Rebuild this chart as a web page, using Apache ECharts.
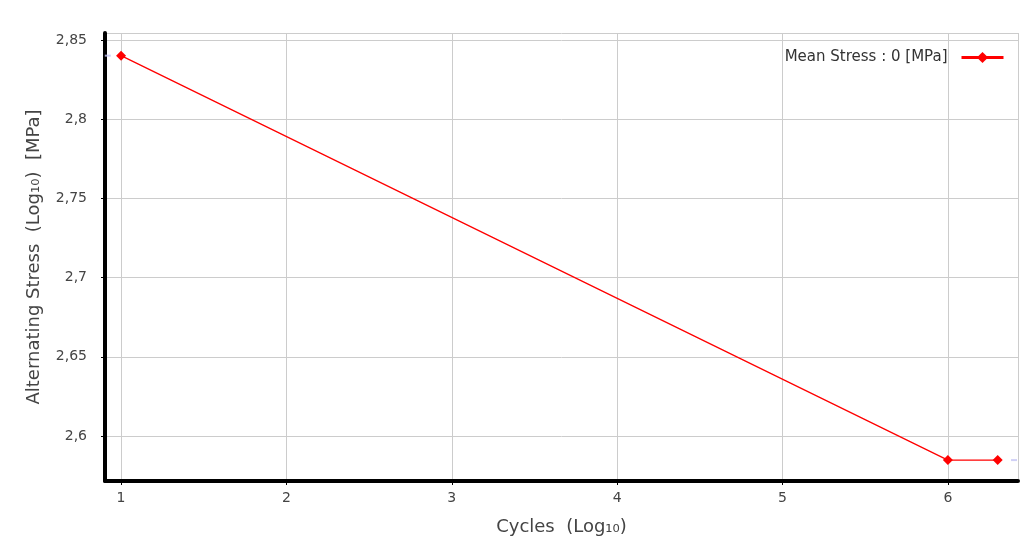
<!DOCTYPE html>
<html>
<head>
<meta charset="utf-8">
<script src="https://cdn.jsdelivr.net/npm/echarts@6/dist/echarts.min.js"></script>
<style>
  html, body { margin: 0; padding: 0; background: #fff; }
  #chart { width: 1027px; height: 553px; }
</style>
</head>
<body>
<div id="chart"></div>
<script>
// 数据
const seriesName = 'Mean Stress : 0 [MPa]';
const cyclesLog = [1, 6, 6.30103];
const stressLog = [2.8401, 2.5848, 2.5848];
// 图外的浅蓝色小标记
const edgeX = [0.92, 6.40];
const edgeY = [2.8401, 2.5848];

const fmt = v => String(+v.toFixed(2)).replace('.', ',');

let chart = echarts.init(document.getElementById('chart'));
let option = {
    animation: false,
    textStyle: { fontFamily: 'DejaVu Sans' },
    legend: {
        data: [seriesName],
        right: 17,
        top: 45,
        align: 'right',
        itemWidth: 42,
        itemHeight: 14,
        itemGap: 6,
        textStyle: { fontSize: 15, color: '#333', padding: [0, 9, 0, 0] },
        lineStyle: { width: 3 }
    },
    grid: { left: 105, right: 9, top: 33, bottom: 72 },
    xAxis: {
        type: 'value',
        min: 0.903,
        max: 6.424,
        splitNumber: 5,
        name: 'Cycles  (Log\u2081\u2080)',
        nameLocation: 'middle',
        nameGap: 37,
        nameTextStyle: { fontSize: 18, color: '#444' },
        axisLine: { show: true, onZero: false, lineStyle: { color: '#000', width: 4 } },
        axisTick: { show: true, length: 4, lineStyle: { color: '#000' } },
        axisLabel: {
            showMinLabel: false, showMaxLabel: false,
            margin: 10, fontSize: 14, color: '#444',
            formatter: v => fmt(v)
        },
        splitLine: { show: true, lineStyle: { color: '#cccccc', width: 1 } }
    },
    yAxis: {
        type: 'value',
        min: 2.5716,
        max: 2.8544,
        splitNumber: 5,
        name: 'Alternating Stress  (Log\u2081\u2080)  [MPa]',
        nameLocation: 'middle',
        nameGap: 62,
        nameTextStyle: { fontSize: 18, color: '#444' },
        axisLine: { show: true, onZero: false, lineStyle: { color: '#000', width: 4 } },
        axisTick: { show: true, length: 4, lineStyle: { color: '#000' } },
        axisLabel: {
            showMinLabel: false, showMaxLabel: false,
            margin: 18, fontSize: 14, color: '#444',
            formatter: v => fmt(v)
        },
        splitLine: { show: true, lineStyle: { color: '#cccccc', width: 1 } }
    },
    series: [
        {
            name: seriesName,
            type: 'line',
            data: cyclesLog.map((x, i) => [x, stressLog[i]]),
            symbol: 'diamond',
            symbolSize: 10,
            itemStyle: { color: '#ff0000' },
            lineStyle: { color: '#ff0000', width: 1.3 }
        },
        {
            name: 'edge',
            type: 'scatter',
            data: edgeX.map((x, i) => [x, edgeY[i]]),
            symbol: 'rect',
            symbolSize: [6, 2],
            itemStyle: { color: '#c4c4f4' },
            silent: true
        }
    ]
};
chart.setOption(option);
</script>
</body>
</html>
